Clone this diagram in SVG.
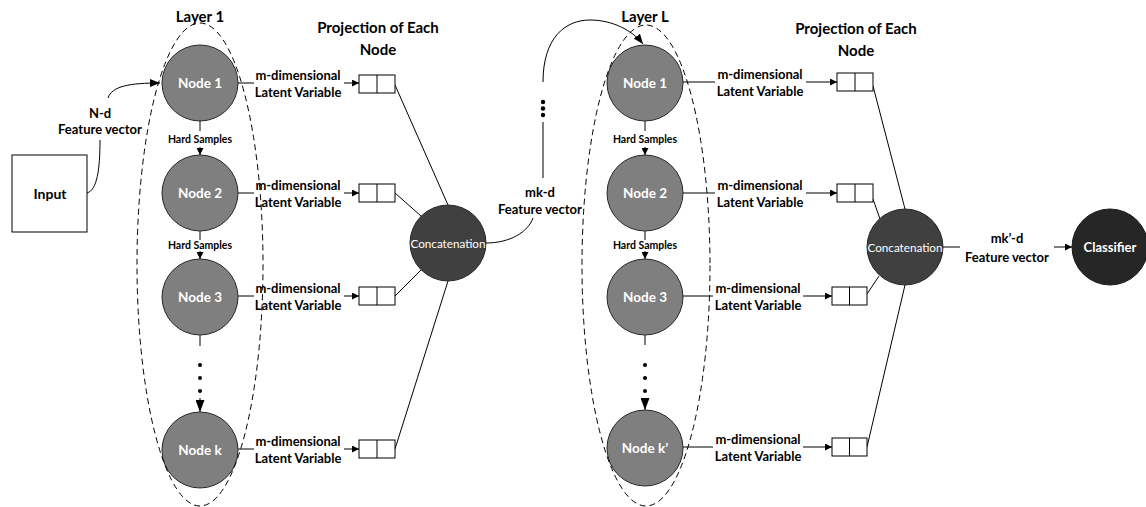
<svg xmlns="http://www.w3.org/2000/svg" width="1146" height="507" viewBox="0 0 1146 507">
  <defs>
    <marker id="arr" viewBox="0 0 10 10" refX="10" refY="5" markerWidth="7" markerHeight="7" markerUnits="userSpaceOnUse" orient="auto">
      <path d="M0,0 L10,5 L0,10 z" fill="#000"/>
    </marker>
    <marker id="arrBig" viewBox="0 0 10 10" refX="10" refY="5" markerWidth="12" markerHeight="9" markerUnits="userSpaceOnUse" orient="auto" preserveAspectRatio="none">
      <path d="M0,0 L10,5 L0,10 z" fill="#000"/>
    </marker>
    <marker id="arrMid" viewBox="0 0 10 10" refX="10" refY="5" markerWidth="10" markerHeight="8" markerUnits="userSpaceOnUse" orient="auto" preserveAspectRatio="none">
      <path d="M0,0 L10,5 L0,10 z" fill="#000"/>
    </marker>
    <style>
      text { font-family: Lato, "Open Sans", "Liberation Sans", sans-serif; text-anchor: middle; dominant-baseline: central; }
      .title { font-size: 15px; font-weight: bold; fill: #000; }
      .lbl { font-size: 13px; font-weight: bold; fill: #000; }
      .hs { font-size: 10.5px; font-weight: bold; fill: #000; }
      .nodeTxt { font-size: 13.5px; font-weight: bold; fill: #fff; }
      .concatTxt { font-size: 11px; fill: #fff; }
      .node { fill: #7f7f7f; stroke: #262626; stroke-width: 1; }
      .concat { fill: #404040; stroke: #262626; stroke-width: 1; }
      .clf { fill: #262626; stroke: #1a1a1a; stroke-width: 1; }
      .layer { fill: none; stroke: #000; stroke-width: 1; stroke-dasharray: 6 4; }
      .ln { fill: none; stroke: #000; stroke-width: 1; }
      .box { fill: #fff; stroke: #000; stroke-width: 1; }
      .dot { fill: #000; }
    </style>
  </defs>

  <!-- titles -->
  <text class="title" x="200" y="16">Layer 1</text>
  <text class="title" x="645" y="16">Layer L</text>
  <text class="title" x="378" y="27">Projection of Each</text>
  <text class="title" x="378" y="49">Node</text>
  <text class="title" x="856" y="28">Projection of Each</text>
  <text class="title" x="856" y="50">Node</text>

  <!-- connectors -->
  <g id="connectors">
    <!-- input to layer 1 -->
    <path class="ln" d="M87,193 C97,190 100,170 100,140"/>
    <path class="ln" d="M108,98 C112,86 130,83 160,83" marker-end="url(#arrMid)"/>

    <!-- layer 1 hard sample chain -->
    <line class="ln" x1="200" y1="121" x2="200" y2="131"/>
    <line class="ln" x1="200" y1="147" x2="200" y2="155" marker-end="url(#arr)"/>
    <line class="ln" x1="200" y1="231" x2="200" y2="240"/>
    <line class="ln" x1="200" y1="251" x2="200" y2="259" marker-end="url(#arr)"/>
    <line class="ln" x1="200" y1="335" x2="200" y2="346"/>
    <line class="ln" x1="200" y1="398" x2="200" y2="412" marker-end="url(#arrBig)"/>

    <!-- layer 1 latent variables -->
    <line class="ln" x1="238" y1="83" x2="254" y2="83"/>
    <line class="ln" x1="344" y1="83" x2="359" y2="83" marker-end="url(#arr)"/>
    <line class="ln" x1="238" y1="193" x2="254" y2="193"/>
    <line class="ln" x1="344" y1="193" x2="359" y2="193" marker-end="url(#arr)"/>
    <line class="ln" x1="238" y1="296" x2="254" y2="296"/>
    <line class="ln" x1="344" y1="296" x2="359" y2="296" marker-end="url(#arr)"/>
    <line class="ln" x1="238" y1="449" x2="254" y2="449"/>
    <line class="ln" x1="344" y1="449" x2="359" y2="449" marker-end="url(#arr)"/>

    <!-- layer 1 projections to concatenation -->
    <line class="ln" x1="395" y1="85" x2="448" y2="205"/>
    <line class="ln" x1="395" y1="193" x2="421" y2="216"/>
    <line class="ln" x1="395" y1="296" x2="421" y2="270"/>
    <line class="ln" x1="395" y1="449" x2="448" y2="281"/>

    <!-- layer 1 concatenation to layer L -->
    <path class="ln" d="M486,243 C510,243 528,232 533,218"/>
    <line class="ln" x1="543" y1="122" x2="543" y2="178"/>
    <path class="ln" d="M543,82 C543,38 565,20 590,20 C612,20 632,30 643,44" marker-end="url(#arrMid)"/>

    <!-- layer L hard sample chain -->
    <line class="ln" x1="645" y1="121" x2="645" y2="131"/>
    <line class="ln" x1="645" y1="147" x2="645" y2="155" marker-end="url(#arr)"/>
    <line class="ln" x1="645" y1="231" x2="645" y2="240"/>
    <line class="ln" x1="645" y1="251" x2="645" y2="259" marker-end="url(#arr)"/>
    <line class="ln" x1="645" y1="335" x2="645" y2="345"/>
    <line class="ln" x1="645" y1="398" x2="645" y2="410" marker-end="url(#arrBig)"/>

    <!-- layer L latent variables -->
    <line class="ln" x1="683" y1="82" x2="715" y2="82"/>
    <line class="ln" x1="806" y1="82" x2="837" y2="82" marker-end="url(#arr)"/>
    <line class="ln" x1="683" y1="193" x2="715" y2="193"/>
    <line class="ln" x1="806" y1="193" x2="837" y2="193" marker-end="url(#arr)"/>
    <line class="ln" x1="683" y1="296" x2="713" y2="296"/>
    <line class="ln" x1="803" y1="296" x2="832" y2="296" marker-end="url(#arr)"/>
    <line class="ln" x1="683" y1="447" x2="713" y2="447"/>
    <line class="ln" x1="803" y1="447" x2="832" y2="447" marker-end="url(#arr)"/>

    <!-- layer L projections to concatenation -->
    <line class="ln" x1="873" y1="86" x2="905" y2="209"/>
    <line class="ln" x1="873" y1="199" x2="880" y2="219"/>
    <line class="ln" x1="867" y1="294" x2="879" y2="276"/>
    <line class="ln" x1="867" y1="447" x2="905" y2="285"/>

    <!-- concatenation to classifier -->
    <line class="ln" x1="943" y1="247" x2="960" y2="247"/>
    <line class="ln" x1="1054" y1="247" x2="1072" y2="247" marker-end="url(#arr)"/>
  </g>

  <!-- connector labels -->
  <g id="connector-labels">
    <text class="lbl" x="100" y="113">N-d</text>
    <text class="lbl" x="100" y="129">Feature vector</text>
    <text class="hs" x="200" y="139">Hard Samples</text>
    <text class="hs" x="200" y="245">Hard Samples</text>
    <text class="hs" x="645" y="139">Hard Samples</text>
    <text class="hs" x="645" y="245">Hard Samples</text>
    <text class="lbl" x="298" y="75">m-dimensional</text>
    <text class="lbl" x="298" y="92">Latent Variable</text>
    <text class="lbl" x="298" y="185">m-dimensional</text>
    <text class="lbl" x="298" y="202">Latent Variable</text>
    <text class="lbl" x="298" y="288">m-dimensional</text>
    <text class="lbl" x="298" y="305">Latent Variable</text>
    <text class="lbl" x="298" y="441">m-dimensional</text>
    <text class="lbl" x="298" y="458">Latent Variable</text>
    <text class="lbl" x="540" y="192">mk-d</text>
    <text class="lbl" x="540" y="209">Feature vector</text>
    <text class="lbl" x="760" y="74">m-dimensional</text>
    <text class="lbl" x="760" y="91">Latent Variable</text>
    <text class="lbl" x="760" y="185">m-dimensional</text>
    <text class="lbl" x="760" y="202">Latent Variable</text>
    <text class="lbl" x="758" y="288">m-dimensional</text>
    <text class="lbl" x="758" y="305">Latent Variable</text>
    <text class="lbl" x="758" y="439">m-dimensional</text>
    <text class="lbl" x="758" y="456">Latent Variable</text>
    <text class="lbl" x="1007" y="238">mk’-d</text>
    <text class="lbl" x="1007" y="257">Feature vector</text>
  </g>

  <!-- ellipsis dots -->
  <g id="dots">
    <circle class="dot" cx="200" cy="365" r="2"/>
    <circle class="dot" cx="200" cy="378" r="2"/>
    <circle class="dot" cx="200" cy="391" r="2"/>
    <circle class="dot" cx="645" cy="365" r="2"/>
    <circle class="dot" cx="645" cy="378" r="2"/>
    <circle class="dot" cx="645" cy="391" r="2"/>
    <circle class="dot" cx="543" cy="102" r="2.2"/>
    <circle class="dot" cx="543" cy="108.5" r="2.2"/>
    <circle class="dot" cx="543" cy="115" r="2.2"/>
  </g>

  <!-- input -->
  <g id="input">
    <rect class="box" x="12" y="155" width="75" height="77"/>
    <text class="lbl" x="50" y="193" style="font-size:14px">Input</text>
  </g>

  <!-- layer 1 -->
  <g id="layer-1">
    <g id="l1-node1"><circle class="node" cx="200" cy="83" r="38"/><text class="nodeTxt" x="200" y="83">Node 1</text></g>
    <g id="l1-node2"><circle class="node" cx="200" cy="193" r="38"/><text class="nodeTxt" x="200" y="193">Node 2</text></g>
    <g id="l1-node3"><circle class="node" cx="200" cy="297" r="38"/><text class="nodeTxt" x="200" y="297">Node 3</text></g>
    <g id="l1-nodek"><circle class="node" cx="200" cy="450" r="38"/><text class="nodeTxt" x="200" y="450">Node k</text></g>
    <ellipse class="layer" cx="200" cy="264.5" rx="63" ry="241.5"/>
  </g>

  <!-- layer 1 projections -->
  <g id="l1-proj1"><rect class="box" x="359" y="75" width="36" height="18"/><line class="ln" x1="377" y1="75" x2="377" y2="93"/></g>
  <g id="l1-proj2"><rect class="box" x="359" y="184" width="36" height="18"/><line class="ln" x1="377" y1="184" x2="377" y2="202"/></g>
  <g id="l1-proj3"><rect class="box" x="359" y="287" width="36" height="18"/><line class="ln" x1="377" y1="287" x2="377" y2="305"/></g>
  <g id="l1-projk"><rect class="box" x="359" y="440" width="36" height="18"/><line class="ln" x1="377" y1="440" x2="377" y2="458"/></g>

  <g id="l1-concat">
    <circle class="concat" cx="448" cy="243" r="38"/>
    <text class="concatTxt" x="448" y="243" textLength="75" lengthAdjust="spacingAndGlyphs">Concatenation</text>
  </g>

  <!-- layer L -->
  <g id="layer-L">
    <g id="lL-node1"><circle class="node" cx="645" cy="83" r="38"/><text class="nodeTxt" x="645" y="83">Node 1</text></g>
    <g id="lL-node2"><circle class="node" cx="645" cy="193" r="38"/><text class="nodeTxt" x="645" y="193">Node 2</text></g>
    <g id="lL-node3"><circle class="node" cx="645" cy="297" r="38"/><text class="nodeTxt" x="645" y="297">Node 3</text></g>
    <g id="lL-nodek"><circle class="node" cx="645" cy="448" r="38"/><text class="nodeTxt" x="645" y="448">Node k’</text></g>
    <ellipse class="layer" cx="646" cy="265.5" rx="64" ry="240.5"/>
  </g>

  <!-- layer L projections -->
  <g id="lL-proj1"><rect class="box" x="837" y="73" width="36" height="18"/><line class="ln" x1="855" y1="73" x2="855" y2="91"/></g>
  <g id="lL-proj2"><rect class="box" x="837" y="184" width="36" height="18"/><line class="ln" x1="855" y1="184" x2="855" y2="202"/></g>
  <g id="lL-proj3"><rect class="box" x="832" y="287" width="35" height="18"/><line class="ln" x1="849.5" y1="287" x2="849.5" y2="305"/></g>
  <g id="lL-projk"><rect class="box" x="832" y="438" width="35" height="18"/><line class="ln" x1="849.5" y1="438" x2="849.5" y2="456"/></g>

  <g id="lL-concat">
    <circle class="concat" cx="905" cy="247" r="38"/>
    <text class="concatTxt" x="905" y="247" textLength="75" lengthAdjust="spacingAndGlyphs">Concatenation</text>
  </g>

  <g id="classifier">
    <circle class="clf" cx="1110" cy="247" r="38"/>
    <text class="nodeTxt" x="1110" y="247" style="font-size:13px">Classifier</text>
  </g>
</svg>
